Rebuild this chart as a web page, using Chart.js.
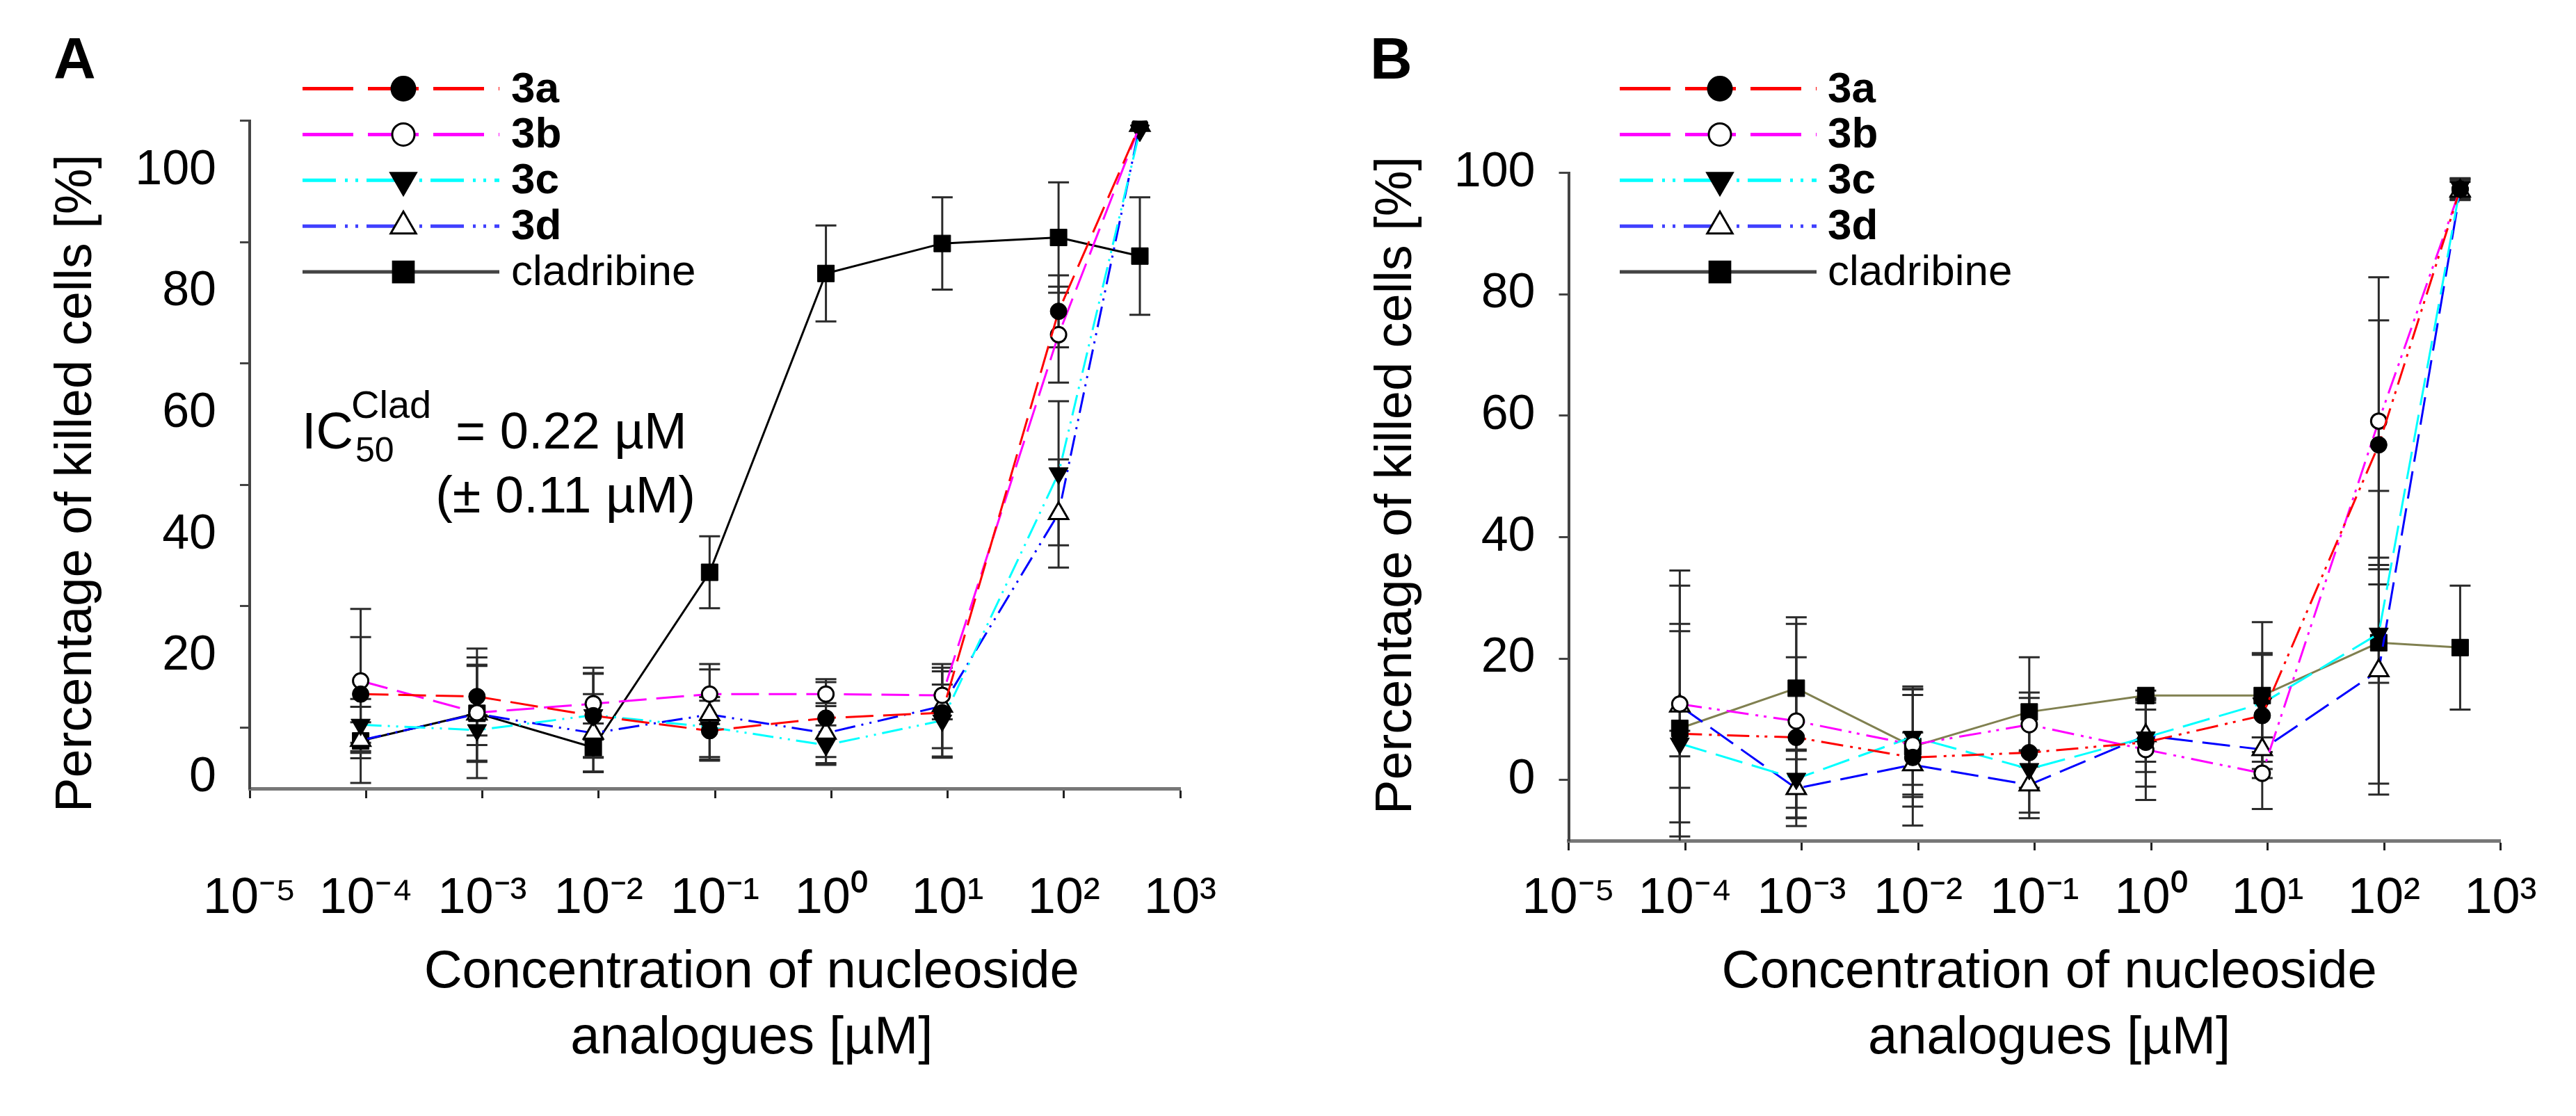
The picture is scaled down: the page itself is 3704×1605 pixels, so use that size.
<!DOCTYPE html>
<html>
<head>
<meta charset="utf-8">
<script src="https://cdn.jsdelivr.net/npm/chart.js@4.4.1/dist/chart.umd.min.js"></script>
<style>
  html, body { margin: 0; padding: 0; background: #fff; }
  #wrap { position: relative; width: 3704px; height: 1605px; }
  canvas { position: absolute; top: 0; }
  #panelA { left: 0; }
  #panelB { left: 1852px; }
</style>
</head>
<body>
<div id="wrap">
  <canvas id="panelA" width="1852" height="1605"></canvas>
  <canvas id="panelB" width="1852" height="1605"></canvas>
</div>
<script>
// concentrations (µM) and axis labels
const concentrations = [9e-5, 9e-4, 9e-3, 9e-2, 0.9, 9, 90, 450];
const xTickValues = [1e-5, 1e-4, 1e-3, 1e-2, 1e-1, 1, 10, 100, 1000];
const xTickLabels = ["10⁻⁵", "10⁻⁴", "10⁻³", "10⁻²", "10⁻¹", "10⁰", "10¹", "10²", "10³"];
const yTickLabels = ["100", "80", "60", "40", "20", "0"];
const yTickValuesB = [100, 80, 60, 40, 20, 0];
const seriesNames = ["3a", "3b", "3c", "3d", "cladribine"];

// Panel A: % killed cells (mean) and error
const a3a = [13.3, 12.9, 9.7, 7.2, 9.3, 10.2, 77.1, 108.1];
const a3b = [15.5, 10.2, 11.7, 13.3, 13.3, 13.1, 73.2, 108.1];
const a3c = [8.2, 7.3, 9.8, 7.8, 4.8, 8.9, 50.1, 107.2];
const a3d = [5.6, 10.0, 6.8, 9.9, 6.8, 11.3, 43.4, 108.1];
const aClad = [5.5, 10.1, 4.4, 33.6, 83.4, 88.4, 89.4, 86.3];
const a3aErr = [9.5, 6.5, 7, 5, 6.5, 7.5, 6, 0];
const a3bErr = [12, 8, 6, 5, 2, 4, 8, 0];
const a3cErr = [3, 2.5, 7, 5, 3.3, 6, 12, 0];
const a3dErr = [3, 8, 6.5, 7.5, 5, 7, 9, 0];
const aCladErr = [7, 10.8, 4, 6, 8, 7.7, 9.2, 9.8];

// Panel B
const b3a = [7.6, 7.0, 3.7, 4.5, 6.2, 10.6, 55.2, 97.3];
const b3b = [12.5, 9.7, 5.8, 9.1, 5.0, 1.1, 59.1, 97.3];
const b3c = [6.0, 0.2, 7.1, 1.8, 7.0, 12.6, 24.1, 97.6];
const b3d = [12.2, -1.4, 2.5, -0.8, 7.3, 5.0, 18.0, 97.0];
const bClad = [8.5, 15.1, 5.5, 11.2, 13.9, 13.9, 22.6, 21.8];
const b3aErr = [16.9, 13.2, 11.2, 9.9, 7.3, 10.3, 20.5, 1.7];
const b3bErr = [19.5, 16, 8.2, 4.4, 8.3, 5.9, 23.7, 1.5];
const b3cErr = [2.1, 4.8, 7.9, 3.1, 5.7, 8, 8.1, 1.5];
const b3dErr = [13.5, 6.2, 5.3, 5.5, 4.3, 2.0, 18.6, 1.5];
const bCladErr = [26, 11.7, 9.9, 9.0, 0.8, 12.1, 25, 10.2];

const FONT = '"Liberation Sans", Arial, sans-serif';
Chart.defaults.font.family = FONT;
Chart.defaults.color = '#000';

const dashLong = [40, 14];
const dashDotDot = [30, 9, 3, 9, 3, 9];
const dashDotDotB = [32, 10, 4, 8, 4, 10];

const markers = [
  { style: 'circle', rot: 0, r: 12, fill: '#000', bw: 1 },
  { style: 'circle', rot: 0, r: 11, fill: '#fff', bw: 3 },
  { style: 'triangle', rot: 180, r: 16, fill: '#000', bw: 1 },
  { style: 'triangle', rot: 0, r: 16, fill: '#fff', bw: 3 },
  { style: 'rect', rot: 0, r: 17, fill: '#000', bw: 1 }
];

const legendItems = [
  { color: '#ff0000', dash: [73, 21], bold: true },
  { color: '#ff00ff', dash: [73, 21], bold: true },
  { color: '#00ffff', dash: [48, 13, 4, 11, 4, 12], bold: true },
  { color: '#4040ff', dash: [48, 13, 4, 11, 4, 12], bold: true },
  { color: '#444444', dash: [], bold: false }
];
const legendMarkerR = [17, 16, 21, 21, 21];

function buildDatasets(values, errors, colors, dashes) {
  return seriesNames.map((name, i) => ({
    label: name,
    data: concentrations.map((c, j) => ({ x: c, y: values[i][j] })),
    errors: errors[i],
    borderColor: colors[i],
    borderDash: dashes[i],
    borderWidth: 3,
    pointStyle: markers[i].style,
    pointRotation: markers[i].rot,
    pointRadius: markers[i].r,
    pointBackgroundColor: markers[i].fill,
    pointBorderColor: '#000',
    pointBorderWidth: markers[i].bw,
    tension: 0,
    fill: false
  }));
}

// vertical error bars with caps, drawn under the lines
const errorBars = {
  id: 'errorBars',
  beforeDatasetsDraw(chart) {
    const { ctx, chartArea: a, scales: { x, y } } = chart;
    ctx.save();
    ctx.beginPath();
    ctx.rect(a.left, a.top, a.right - a.left, a.bottom - a.top);
    ctx.clip();
    ctx.strokeStyle = '#2a2a2a';
    ctx.lineWidth = 3;
    chart.data.datasets.forEach(ds => {
      ds.data.forEach((p, i) => {
        const e = ds.errors[i];
        if (!e) return;
        const px = x.getPixelForValue(p.x);
        const top = y.getPixelForValue(p.y + e);
        const bot = y.getPixelForValue(p.y - e);
        ctx.beginPath();
        ctx.moveTo(px, top); ctx.lineTo(px, bot);
        ctx.moveTo(px - 15, top); ctx.lineTo(px + 15, top);
        ctx.moveTo(px - 15, bot); ctx.lineTo(px + 15, bot);
        ctx.stroke();
      });
    });
    ctx.restore();
  }
};

function drawMarker(ctx, style, rot, r, x, y, fill) {
  ctx.save();
  ctx.fillStyle = fill;
  ctx.strokeStyle = '#000';
  ctx.lineWidth = 3;
  ctx.setLineDash([]);
  ctx.beginPath();
  if (style === 'circle') {
    ctx.arc(x, y, r, 0, Math.PI * 2);
  } else if (style === 'rect') {
    const s = r * Math.SQRT1_2;
    ctx.rect(x - s, y - s, 2 * s, 2 * s);
  } else {
    let a = rot * Math.PI / 180;
    for (let k = 0; k < 3; k++) {
      const px = x + Math.sin(a) * r, py = y - Math.cos(a) * r;
      if (k === 0) ctx.moveTo(px, py); else ctx.lineTo(px, py);
      a += 2 * Math.PI / 3;
    }
    ctx.closePath();
  }
  ctx.fill();
  ctx.stroke();
  ctx.restore();
}

// legend: dashed sample line + marker + label
const lineLegend = {
  id: 'lineLegend',
  afterDraw(chart, args, o) {
    const ctx = chart.ctx;
    seriesNames.forEach((name, i) => {
      const y = o.top + i * o.step;
      const it = legendItems[i];
      ctx.save();
      ctx.strokeStyle = it.color;
      ctx.lineWidth = 5;
      ctx.setLineDash(it.dash);
      ctx.beginPath();
      ctx.moveTo(o.x0, y);
      ctx.lineTo(o.x1, y);
      ctx.stroke();
      ctx.restore();
      const m = markers[i];
      drawMarker(ctx, m.style, m.rot, legendMarkerR[i], o.xm, y, m.fill);
      ctx.save();
      ctx.fillStyle = '#000';
      ctx.font = (it.bold ? 'bold ' : '') + '62px ' + FONT;
      ctx.textBaseline = 'middle';
      ctx.textAlign = 'left';
      ctx.fillText(name, o.xt, y + 2);
      ctx.restore();
    });
  }
};

// panel letter and optional IC50 note
const panelText = {
  id: 'panelText',
  afterDraw(chart, args, o) {
    const ctx = chart.ctx;
    ctx.save();
    ctx.fillStyle = '#000';
    ctx.textBaseline = 'alphabetic';
    ctx.font = 'bold 84px ' + FONT;
    ctx.fillText(o.letter, o.lx, o.ly);
    if (o.note) {
      ctx.font = '74px ' + FONT;
      ctx.fillText('IC', 434, 645);
      ctx.font = '56px ' + FONT;
      ctx.fillText('Clad', 505, 601);
      ctx.font = '50px ' + FONT;
      ctx.fillText('50', 511, 664);
      ctx.font = '74px ' + FONT;
      ctx.fillText('= 0.22 µM', 655, 645);
      ctx.textAlign = 'right';
      ctx.fillText('(± 0.11 µM)', 1000, 737);
    }
    ctx.restore();
  }
};

function makeChart(id, cfg) {
  return new Chart(document.getElementById(id), {
    type: 'line',
    data: { datasets: cfg.datasets },
    plugins: [errorBars, lineLegend, panelText],
    options: {
      responsive: false,
      devicePixelRatio: 1,
      animation: false,
      events: [],
      layout: { autoPadding: false, padding: cfg.padding },
      plugins: {
        legend: { display: false },
        tooltip: { enabled: false },
        lineLegend: cfg.legend,
        panelText: cfg.text
      },
      scales: {
        x: {
          type: 'logarithmic',
          min: 1e-5,
          max: 1e3,
          afterBuildTicks: s => { s.ticks = xTickValues.map(v => ({ value: v })); },
          afterFit: s => { s.height = cfg.xHeight; },
          ticks: {
            callback: (v, i) => xTickLabels[i],
            autoSkip: false,
            maxRotation: 0,
            padding: cfg.xPad,
            font: { size: 72 },
            color: '#000'
          },
          grid: { drawOnChartArea: false, drawTicks: true, tickLength: 14, tickWidth: 3, tickColor: '#222' },
          border: { display: true, color: '#777', width: 5 },
          title: {
            display: true,
            text: [cfg.xIndent + 'Concentration of nucleoside', cfg.xIndent + 'analogues [µM]'],
            font: { size: 76, lineHeight: 1.25 },
            color: '#000',
            padding: { top: 0, bottom: 63 }
          }
        },
        y: {
          min: cfg.yMin,
          max: cfg.yMax,
          afterBuildTicks: s => { s.ticks = cfg.yTicks.map(v => ({ value: v })); },
          afterFit: s => { s.width = cfg.yWidth; },
          ticks: {
            callback: (v, i) => yTickLabels[i],
            labelOffset: cfg.labelOffset,
            padding: 34,
            font: { size: 70 },
            color: '#000'
          },
          grid: { drawOnChartArea: false, drawTicks: true, tickLength: 14, tickWidth: 3, tickColor: '#444' },
          border: { display: true, color: '#444', width: 4 },
          title: {
            display: true,
            text: cfg.yTitle,
            font: { size: 74 },
            color: '#000',
            padding: { top: cfg.yTitlePad, bottom: 0 }
          }
        }
      }
    }
  });
}

const colorsA = ['#ff0000', '#ff00ff', '#00ffff', '#0000ff', '#000000'];
const colorsB = ['#ff0000', '#ff00ff', '#00ffff', '#0000ff', '#808050'];

// panel A: the printed tick marks sit above their labels, so the tick
// marks are placed on their own positions and the labels shifted down
makeChart('panelA', {
  datasets: buildDatasets([a3a, a3b, a3c, a3d, aClad], [a3aErr, a3bErr, a3cErr, a3dErr, aCladErr],
    colorsA, [dashLong, dashLong, dashDotDot, dashDotDot, []]),
  padding: { left: 0, right: 155, top: 173.5, bottom: 0 },
  yMin: -2.43, yMax: 108.87,
  yTicks: yTickLabels.map((_, i) => 108.87 - 20.23 * i),
  labelOffset: 72,
  yWidth: 359,
  xHeight: 471,
  xPad: 102,
  xIndent: '     ',
  yTitle: 'Percentage of killed cells [%]    ',
  yTitlePad: 66,
  legend: { top: 127.5, step: 65.9, x0: 435, x1: 718, xm: 580, xt: 735 },
  text: { letter: 'A', lx: 77, ly: 113, note: true }
});

makeChart('panelB', {
  datasets: buildDatasets([b3a, b3b, b3c, b3d, bClad], [b3aErr, b3bErr, b3cErr, b3dErr, bCladErr],
    colorsB, [dashDotDotB, dashDotDotB, dashLong, dashLong, []]),
  padding: { left: 0, right: 108.5, top: 248.5, bottom: 0 },
  yMin: -10, yMax: 100,
  yTicks: yTickValuesB,
  labelOffset: 0,
  yWidth: 403.5,
  xHeight: 396,
  xPad: 27,
  xIndent: '  ',
  yTitle: '   Percentage of killed cells [%]',
  yTitlePad: 112,
  legend: { top: 127.5, step: 65.9, x0: 477, x1: 760, xm: 621, xt: 776 },
  text: { letter: 'B', lx: 118, ly: 113, note: false }
});
</script>
</body>
</html>
